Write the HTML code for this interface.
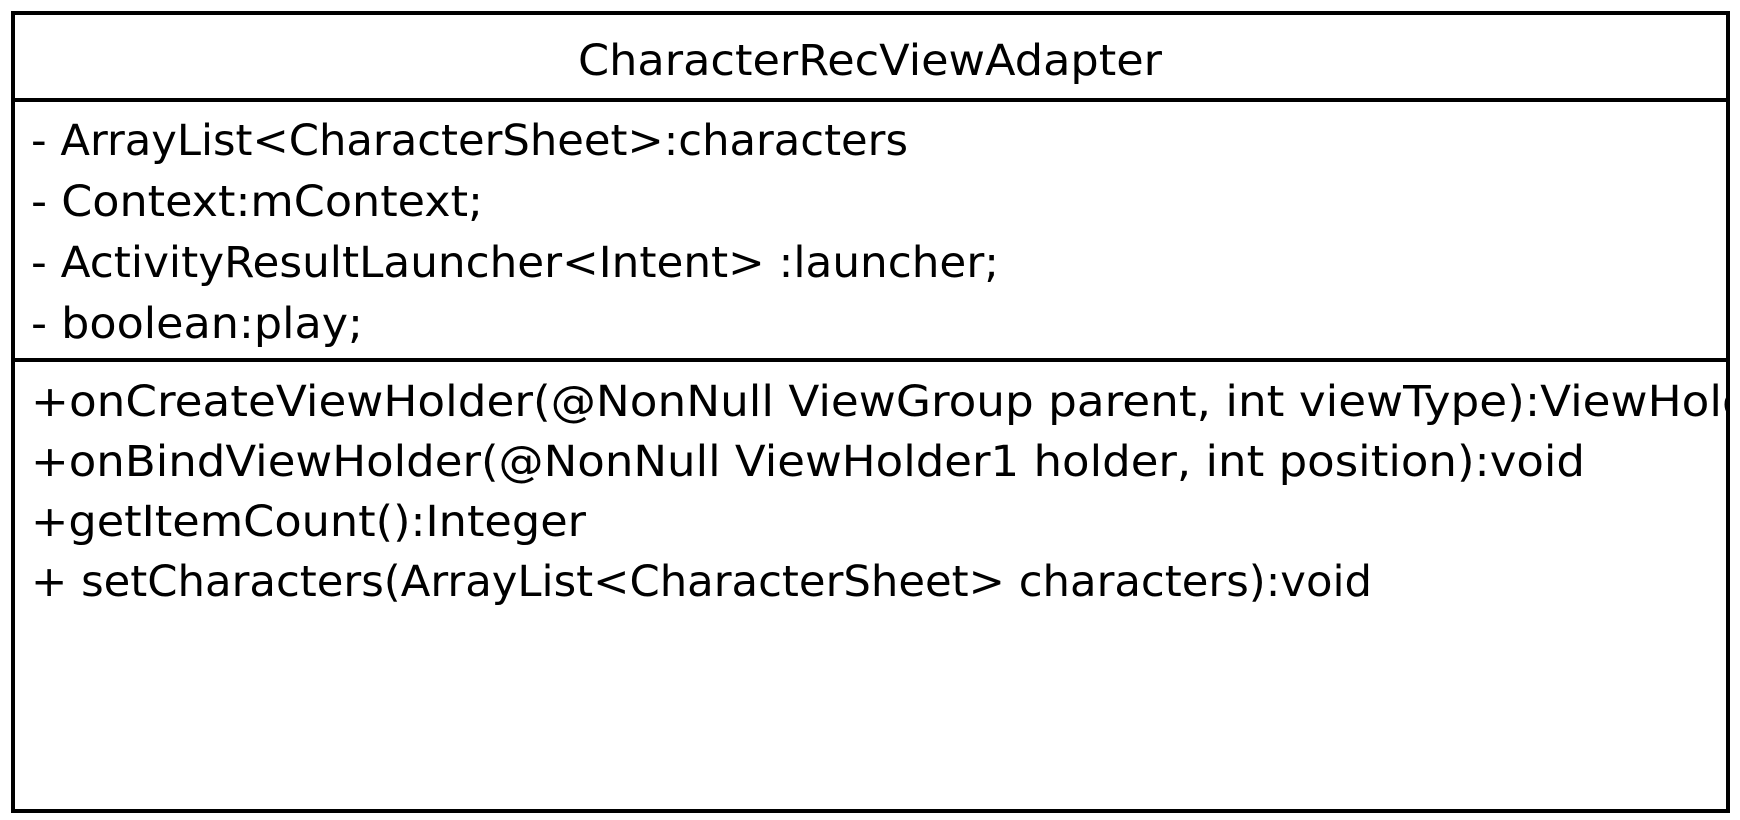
<!DOCTYPE html>
<html><head><meta charset="utf-8"><style>
html,body{margin:0;padding:0;background:#fff;}
svg{display:block;}
text{font-family:"DejaVu Sans","Liberation Sans",sans-serif;font-size:43px;fill:#000;dominant-baseline:central;}
</style></head><body>
<svg width="1740" height="820" viewBox="0 0 1740 820" xmlns="http://www.w3.org/2000/svg">
<defs><clipPath id="c"><rect x="12" y="12" width="1715" height="800"/></clipPath></defs>
<rect x="13" y="13" width="1715" height="798" fill="#fff" stroke="#000" stroke-width="4"/>
<line x1="12" y1="100" x2="1728" y2="100" stroke="#000" stroke-width="4"/>
<line x1="12" y1="360" x2="1728" y2="360" stroke="#000" stroke-width="4"/>
<text x="578" y="61" textLength="584" lengthAdjust="spacingAndGlyphs">CharacterRecViewAdapter</text>
<text x="31" y="141" textLength="877" lengthAdjust="spacingAndGlyphs">- ArrayList&lt;CharacterSheet&gt;:characters</text>
<text x="31" y="202" textLength="452" lengthAdjust="spacingAndGlyphs">- Context:mContext;</text>
<text x="31" y="263" textLength="968" lengthAdjust="spacingAndGlyphs">- ActivityResultLauncher&lt;Intent&gt; :launcher;</text>
<text x="31" y="324" textLength="332" lengthAdjust="spacingAndGlyphs">- boolean:play;</text>
<g clip-path="url(#c)">
<text x="31" y="402" textLength="1795" lengthAdjust="spacingAndGlyphs">+onCreateViewHolder(@NonNull ViewGroup parent, int viewType):ViewHolder1</text>
</g>
<text x="31" y="462" textLength="1554" lengthAdjust="spacingAndGlyphs">+onBindViewHolder(@NonNull ViewHolder1 holder, int position):void</text>
<text x="31" y="522" textLength="555" lengthAdjust="spacingAndGlyphs">+getItemCount():Integer</text>
<text x="31" y="582" textLength="1341" lengthAdjust="spacingAndGlyphs">+ setCharacters(ArrayList&lt;CharacterSheet&gt; characters):void</text>
</svg>
</body></html>
